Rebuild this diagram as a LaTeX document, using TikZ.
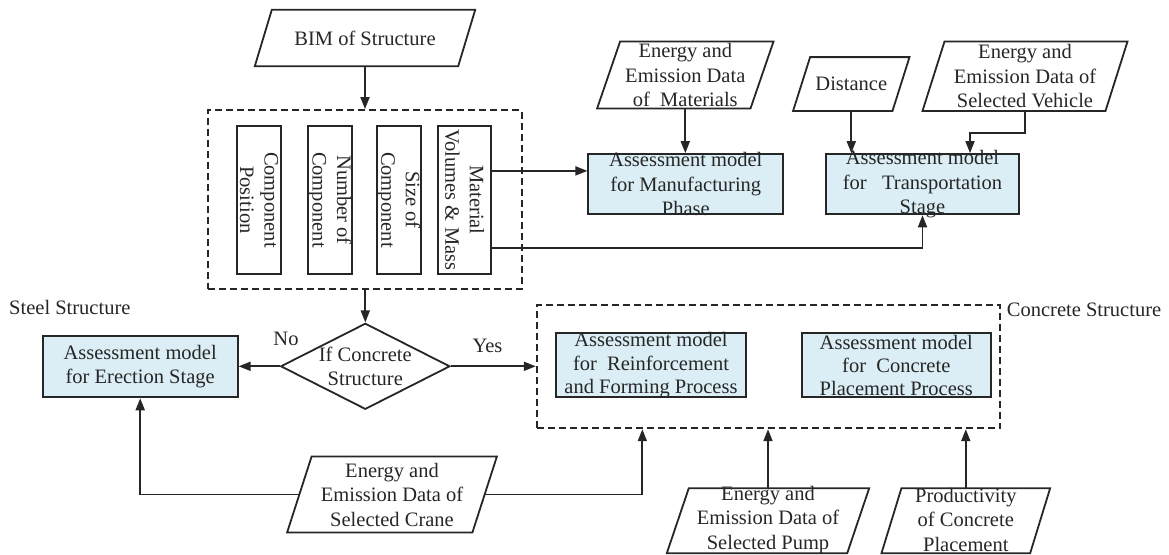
\documentclass[tikz,border=0pt]{standalone}
\usepackage{fontspec}
\setmainfont{Liberation Serif}
\usetikzlibrary{arrows.meta,shapes.geometric,calc}

\definecolor{ink}{RGB}{38,38,38}
\definecolor{modelfill}{RGB}{219,238,245}

\tikzset{
  every node/.style={font=\fontsize{20.5}{24.5}\selectfont, text=ink},
  wire/.style={draw=ink, line width=1.8pt},
  arr/.style={wire, -{Triangle[length=12pt,width=9pt]}},
  model/.style={draw=ink, line width=1.8pt, fill=modelfill, inner sep=0pt},
  attrbox/.style={draw=ink, line width=1.8pt, fill=white, inner sep=0pt, minimum height=148.3pt},
  group/.style={draw=ink, line width=1.8pt, dash pattern=on 7pt off 4pt, inner sep=0pt},
  label/.style={align=center, inner sep=0pt},
  vlabel/.style={label, rotate=-90},
  dataio/.style={inner sep=0pt},
  decision/.style={diamond, draw=ink, line width=1.8pt, fill=white, inner sep=0pt},
}

% slanted frame for an input/output node: #1 node name, #2 horizontal slant
\newcommand\slantframe[2]{%
  \draw[wire, line join=miter] ([xshift=#2]#1.north west) -- (#1.north east)
    -- ([xshift=-#2]#1.south east) -- (#1.south west) -- cycle;}

\begin{document}
\begin{tikzpicture}[x=1pt,y=-1pt]
\useasboundingbox (0,0) rectangle (1169,554);

% ---------- BIM and its component attributes ----------
\node[dataio, minimum width=220pt, minimum height=56pt] (bim) at (365,38) {};
\slantframe{bim}{17}
\node[label] at (bim) {BIM of Structure};

\node[group, minimum width=313.7pt, minimum height=179pt] (attrs) at (364.85,199.5) {};

\node[attrbox, minimum width=43.4pt] (pos) at (259,199.9) {};
\node[vlabel] at (pos) {Component\\Position};
\node[attrbox, minimum width=44.6pt] (num) at (330,199.9) {};
\node[vlabel] at (num) {Number of\\Component};
\node[attrbox, minimum width=44pt] (size) at (398.7,199.9) {};
\node[vlabel] at (size) {Size of\\Component};
\node[attrbox, minimum width=52.4pt] (mvm) at (464.5,199.9) {};
\node[vlabel] at (mvm) {Material\\Volumes \& Mass};

% ---------- manufacturing and transportation ----------
\node[dataio, minimum width=176pt, minimum height=66.6pt] (mat) at (685.3,75) {};
\slantframe{mat}{23}
\node[label] at (mat) {Energy and\\Emission Data\\of\ \ Materials};

\node[dataio, minimum width=116pt, minimum height=53.4pt] (dist) at (851.3,84) {};
\slantframe{dist}{17}
\node[label] at (dist) {Distance};

\node[dataio, minimum width=204.6pt, minimum height=69pt] (veh) at (1025,76.2) {};
\slantframe{veh}{22}
\node[label] at (veh) {Energy and\\Emission Data of\\Selected Vehicle};

\node[model, minimum width=195pt, minimum height=60.3pt] (manu) at (685.8,184.2) {};
\node[label] at (manu) {Assessment model\\for Manufacturing\\Phase};

\node[model, minimum width=193.6pt, minimum height=60.3pt] (trans) at (922.5,184.2) {};
\node[label] at (trans) {Assessment model\\for\ \ \ Transportation\\Stage};

% ---------- decision and erection stage ----------
\node[decision, minimum width=169.3pt, minimum height=86pt] (dec) at (365.3,366.3) {};
\node[label] at (dec) {If Concrete\\Structure};

\node[anchor=west, inner sep=0pt] (steel) at (9,307) {Steel Structure};
\node[model, minimum width=195pt, minimum height=61.3pt] (erect) at (140.2,366.7) {};
\node[label] at (erect) {Assessment model\\for Erection Stage};

% ---------- concrete structure group ----------
\node[group, minimum width=463.3pt, minimum height=123.3pt] (conc) at (768.35,366.65) {};
\node[anchor=west, inner sep=0pt] (conctitle) at (1006.7,310) {Concrete Structure};

\node[model, minimum width=190pt, minimum height=64pt] (reinf) at (651,365.3) {};
\node[label, font=\fontsize{20.5}{23.3}\selectfont] at (reinf) {Assessment model\\for\ \ Reinforcement\\and Forming Process};

\node[model, minimum width=189.3pt, minimum height=64pt] (place) at (896.3,365.3) {};
\node[label, font=\fontsize{20.5}{23.3}\selectfont] at (place) {Assessment model\\for\ \ Concrete\\Placement Process};

% ---------- equipment and productivity inputs ----------
\node[dataio, minimum width=209.4pt, minimum height=75.6pt] (crane) at (392,494.5) {};
\slantframe{crane}{24.5}
\node[label] at (crane) {Energy and\\Emission Data of\\Selected Crane};

\node[dataio, minimum width=202pt, minimum height=64.7pt] (pump) at (768,520.7) {};
\slantframe{pump}{22}
\node[label] at ([yshift=1pt]pump) {Energy and\\Emission Data of\\Selected Pump};

\node[dataio, minimum width=168.3pt, minimum height=64.7pt] (prod) at (965.8,520.7) {};
\slantframe{prod}{20}
\node[label] at ([yshift=1pt]prod) {Productivity\\of Concrete\\Placement};

% ---------- connectors ----------
\draw[arr] (bim.south) -- (bim.south |- attrs.north);

\coordinate (mvmhi) at ([yshift=29pt]mvm.east);
\coordinate (mvmlo) at ([yshift=-48.4pt]mvm.east);
\draw[arr] (mvmhi) -- (mvmhi -| manu.west);
\draw[arr] (mvmlo) -| (trans.south);

\draw[arr] (mat.south) -- (mat.south |- manu.north);
\draw[arr] (dist.south) -- (dist.south |- trans.north);
\coordinate (vehin) at ([xshift=47.5pt]trans.north);
\draw[arr] (veh.south) -- ++(0,22) -| (vehin);

\draw[arr] (attrs.south -| dec.north) -- (dec.north);
\draw[arr] (dec.west) -- (dec.west -| erect.east);
\draw[arr] (dec.east) -- (dec.east -| conc.west);
\node[inner sep=0pt] (nolabel) at (286,339) {No};
\node[inner sep=0pt] (yeslabel) at (487.5,345.5) {Yes};

\coordinate (craneL) at ([xshift=12.25pt]crane.west);
\coordinate (craneR) at ([xshift=-12.25pt]crane.east);
\coordinate (concin) at ([xshift=-126pt]conc.south);
\draw[arr] (craneL) -| (erect.south);
\draw[arr] (craneR) -| (concin);
\draw[arr] (pump.north) -- (pump.north |- conc.south);
\draw[arr] (prod.north) -- (prod.north |- conc.south);
\end{tikzpicture}
\end{document}
